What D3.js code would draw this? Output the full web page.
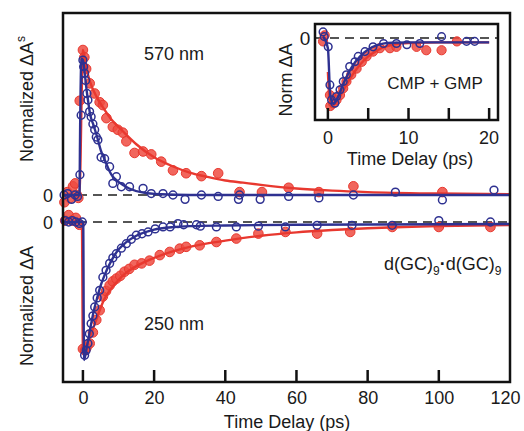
<!DOCTYPE html>
<html><head><meta charset="utf-8">
<script src="https://cdn.jsdelivr.net/npm/d3@7"></script>
<style>
body{margin:0;background:#fff;}
text{font-family:"Liberation Sans",Arial,sans-serif;fill:#1a1a1a;}
</style></head>
<body><svg id="c" width="524" height="431"></svg>
<script>
// ---- Data (time in ps, normalized signal) ----
const xTicks = [0,20,40,60,80,100,120];
const insetTicks = [0,5,10,15,20];
const insetTickLabels = [0,10,20];

// 570 nm panel – d(GC)9·d(GC)9 (red, filled) and CMP+GMP (blue, open)
const redTopT = [-5.2,-4.4,-3.6,-2.8,-2.2,-1.7,-1.3,-0.9,0,0.4,0.9,1.9,3.3,4.7,5.6,6.6,8.4,9.8,11.2,12.2,14.5,16.9,19.2,22,25.3,29,33.3,38,44,50.3,57.8,66.3,76,101];
const redTopV = [-0.05,0.02,-0.02,0.06,0.08,0.0,-0.02,0.65,1.0,0.95,0.87,0.77,0.70,0.64,0.62,0.53,0.47,0.45,0.43,0.37,0.29,0.30,0.28,0.23,0.17,0.15,0.13,0.15,0.02,0.02,0.05,0.02,0.06,0.02];
const redTopFitT = [-5.6,-1.0,-0.1,0,1,2,4,6,8,10,12,15,20,25,30,35,40,45,50,60,70,80,100,120];
const redTopFitV = [0,0,0.95,1.0,0.87,0.78,0.67,0.59,0.52,0.47,0.42,0.35,0.26,0.20,0.155,0.125,0.10,0.085,0.07,0.045,0.03,0.02,0.01,0.005];

const blueTopT = [-5.3,-4.3,-3.2,-2.2,-1.5,-0.85,-0.5,0,0.2,0.47,0.75,1.12,1.4,1.87,2.3,2.8,3.3,3.75,4.2,5.1,6.1,7.5,8.4,9.4,10.8,13.1,16.9,19.2,22.5,25.3,28.7,33.3,38,43.7,44,49.8,57.8,66.3,76,87.8,101,115.5];
const blueTopV = [0.0,0.01,-0.03,0.0,-0.01,0.14,0.55,0.93,0.885,0.84,0.79,0.70,0.655,0.575,0.54,0.49,0.45,0.40,0.38,0.26,0.25,0.195,0.08,0.126,0.057,0.057,0.046,0.01,0.01,0.0,-0.03,0.0,-0.01,-0.03,0.0,-0.03,-0.01,-0.02,0.0,0.02,-0.034,0.034];
const blueTopFitT = [-5.6,-0.95,-0.85,-0.4,0,0.5,1,1.5,2,3,4,5,6,8,10,13,17,22,30,120];
const blueTopFitV = [0,0,0.3,0.94,0.93,0.84,0.73,0.64,0.56,0.48,0.40,0.31,0.25,0.14,0.09,0.045,0.016,0.005,0,0];

// 250 nm panel
const redBotT = [-5.0,-4.0,-3.0,-2.0,-1.0,0,0.6,1.0,1.9,2.8,3.75,4.7,5.6,6.5,7.5,8.4,9.4,10.5,11.7,13,14.5,16.5,18.7,21.6,24.4,27.2,29,32.8,37.5,43.1,49.3,56.9,65.8,75.1,86.9,100,114.5];
const redBotV = [0.01,0.05,0.01,0.03,-0.02,-0.92,-0.93,-0.91,-0.88,-0.80,-0.71,-0.64,-0.54,-0.50,-0.46,-0.43,-0.41,-0.39,-0.36,-0.34,-0.31,-0.30,-0.28,-0.24,-0.217,-0.193,-0.18,-0.169,-0.145,-0.12,-0.084,-0.072,-0.084,-0.072,-0.036,-0.036,-0.036];
const redBotFitT = [-5.6,-0.3,0,1,2,3,4,5,6,8,10,12,15,20,25,30,35,40,50,60,70,80,90,100,120];
const redBotFitV = [0,0,-0.93,-0.9,-0.83,-0.76,-0.69,-0.62,-0.56,-0.48,-0.42,-0.37,-0.32,-0.26,-0.215,-0.18,-0.155,-0.135,-0.10,-0.075,-0.058,-0.045,-0.036,-0.03,-0.022];

const blueBotT = [-5.0,-4.0,-3.0,-2.0,-1.0,-0.2,0.47,0.9,1.4,1.8,2.3,2.8,3.3,4.0,4.7,5.6,6.5,7.5,8.4,9.4,10.8,12.2,13.6,15,16.6,18.3,20.3,22.5,24.5,26.7,28.3,31.9,33,37.5,43.1,49.3,56.9,65.8,75.6,86.9,100,114.5];
const blueBotV = [0.01,0.0,0.01,0.0,-0.01,0.0,-0.966,-0.93,-0.88,-0.81,-0.736,-0.68,-0.616,-0.55,-0.495,-0.40,-0.35,-0.30,-0.26,-0.23,-0.19,-0.157,-0.125,-0.096,-0.085,-0.072,-0.05,-0.036,-0.036,-0.012,-0.02,-0.02,-0.03,-0.036,-0.036,-0.03,-0.036,-0.024,-0.024,-0.024,0.01,0.0];
const blueBotFitT = [-5.6,0.1,0.2,0.3,1,2,3,4,5,6,8,10,12,15,20,25,30,40,60,120];
const blueBotFitV = [0,0,-0.6,-1.0,-0.92,-0.78,-0.65,-0.55,-0.46,-0.39,-0.28,-0.20,-0.15,-0.10,-0.055,-0.038,-0.03,-0.025,-0.02,-0.015];

// Inset – CMP + GMP
const insRedT = [-0.4,-0.6,0.25,0.3,0.66,1.07,1.5,1.9,2.3,2.9,3.56,4.2,4.8,5.6,6.45,7.7,8.5,11,12.2,14.1,16];
const insRedV = [0.04,-0.05,-0.84,-1.0,-0.96,-0.91,-0.84,-0.74,-0.64,-0.54,-0.45,-0.35,-0.27,-0.20,-0.15,-0.15,-0.13,-0.13,-0.18,-0.18,-0.05];
const insRedFitT = [0,0.2,0.45,1,2,3,4,5,6,7,8,10,14,20];
const insRedFitV = [-0.5,-0.9,-1.0,-0.95,-0.75,-0.55,-0.39,-0.27,-0.19,-0.13,-0.10,-0.075,-0.065,-0.065];
const insBlueT = [-0.6,-0.45,0.04,0.25,0.45,0.87,1.07,1.5,1.9,2.3,2.7,3.35,3.76,4.6,5.6,6.9,8.5,9.8,11.4,14.1,17.2,18.2];
const insBlueV = [0.09,0.02,-0.13,-0.69,-0.91,-0.96,-0.86,-0.76,-0.64,-0.54,-0.42,-0.35,-0.27,-0.20,-0.13,-0.08,-0.08,-0.10,-0.08,0.02,-0.05,-0.05];
const insBlueFitT = [-0.6,0.0,0.3,0.7,1.2,2,3,4,5,6,7,8,10,20];
const insBlueFitV = [0.02,-0.15,-0.85,-0.97,-0.88,-0.65,-0.42,-0.27,-0.17,-0.11,-0.08,-0.07,-0.065,-0.065];

// ---- Drawing ----
const RED = "#e8382f", RED_FILL = "#ee4b41", BLUE = "#2e3191";
const FS = 18;
const svg = d3.select("#c");
const zip = (T,V) => T.map((t,i)=>({t, v:V[i]}));

const x = d3.scaleLinear().domain([-5.6,120]).range([63,510]);
const yTop = d3.scaleLinear().domain([0,1]).range([195,50]);
const yBot = d3.scaleLinear().domain([-1,0]).range([360,222]);
const xi = d3.scaleLinear().domain([-1.6,21.1]).range([315,498]);
const yi = d3.scaleLinear().domain([-1,0]).range([106,38]);

function dashed(g, x1, x2, y){
  g.append("line").attr("x1",x1).attr("x2",x2).attr("y1",y).attr("y2",y)
   .attr("stroke","#555").attr("stroke-width",2).attr("stroke-dasharray","9,6");
}
function panel(g, xs, ys, redPts, redFit, bluePts, blueFit, rr, br){
  const line = d3.line().x(d=>xs(d.t)).y(d=>ys(d.v)).curve(d3.curveMonotoneX);
  g.append("g").selectAll("circle").data(redPts).join("circle")
    .attr("cx",d=>xs(d.t)).attr("cy",d=>ys(d.v)).attr("r",rr)
    .attr("fill",RED_FILL).attr("fill-opacity",0.85).attr("stroke",RED).attr("stroke-width",1);
  g.append("path").datum(redFit).attr("d",line).attr("fill","none").attr("stroke",RED).attr("stroke-width",2.4);
  g.append("g").selectAll("circle").data(bluePts).join("circle")
    .attr("cx",d=>xs(d.t)).attr("cy",d=>ys(d.v)).attr("r",br)
    .attr("fill","none").attr("stroke",BLUE).attr("stroke-width",1.5);
  g.append("path").datum(blueFit).attr("d",line).attr("fill","none").attr("stroke",BLUE).attr("stroke-width",2.4);
}

const main = svg.append("g");
dashed(main, x(-5.6), x(120), yTop(0));
dashed(main, x(-5.6), x(120), yBot(0));
panel(main, x, yTop, zip(redTopT,redTopV), zip(redTopFitT,redTopFitV), zip(blueTopT,blueTopV), zip(blueTopFitT,blueTopFitV), 4.8, 3.9);
panel(main, x, yBot, zip(redBotT,redBotV), zip(redBotFitT,redBotFitV), zip(blueBotT,blueBotV), zip(blueBotFitT,blueBotFitV), 4.8, 3.9);

// main frame
main.append("rect").attr("x",63).attr("y",13).attr("width",447).attr("height",369)
  .attr("fill","none").attr("stroke","#111").attr("stroke-width",2.5);
// x axis ticks (inward) + labels
const xAxis = d3.axisBottom(x).tickValues(xTicks).tickSize(0).tickPadding(0).tickFormat(d3.format("d"));
const xg = main.append("g").attr("transform","translate(0,382)").call(xAxis);
xg.select(".domain").remove();
xg.selectAll("text").attr("y",22).attr("dy",0).attr("font-size",FS).attr("fill","#1a1a1a")
  .style("font-family","Liberation Sans, Arial, sans-serif")
  .attr("x",d=>d===120?-5:0);
main.append("g").selectAll("line").data(xTicks.filter(d=>d<120)).join("line")
  .attr("x1",d=>x(d)).attr("x2",d=>x(d)).attr("y1",382).attr("y2",370)
  .attr("stroke","#111").attr("stroke-width",2.5);
main.append("text").attr("x",287).attr("y",428).attr("text-anchor","middle").attr("font-size",FS).text("Time Delay (ps)");
main.append("text").attr("x",48).attr("y",yTop(0)+6.5).attr("text-anchor","middle").attr("font-size",FS).text("0");
main.append("text").attr("x",48).attr("y",yBot(0)+6.5).attr("text-anchor","middle").attr("font-size",FS).text("0");

const yl1 = main.append("text").attr("transform","translate(33,99) rotate(-90)").attr("text-anchor","middle").attr("font-size",FS);
yl1.append("tspan").text("Normalized \u0394A");
yl1.append("tspan").attr("dy",-8).attr("font-size",12).text("s");
main.append("text").attr("transform","translate(33,306) rotate(-90)").attr("text-anchor","middle").attr("font-size",FS).text("Normalized \u0394A");

main.append("text").attr("x",174).attr("y",60).attr("text-anchor","middle").attr("font-size",FS).text("570 nm");
main.append("text").attr("x",174).attr("y",330).attr("text-anchor","middle").attr("font-size",FS).text("250 nm");
const gc = main.append("text").attr("x",384).attr("y",270).attr("font-size",FS);
gc.append("tspan").text("d(GC)");
gc.append("tspan").attr("dy",5).attr("font-size",12).text("9");
gc.append("tspan").attr("dy",-5).attr("font-weight","bold").text("\u00B7");
gc.append("tspan").text("d(GC)");
gc.append("tspan").attr("dy",5).attr("font-size",12).text("9");

// ---- Inset ----
const ins = svg.append("g");
ins.append("rect").attr("x",315).attr("y",24).attr("width",183).attr("height",96).attr("fill","#fff");
dashed(ins, xi(-1.6), xi(21.1), yi(0));
panel(ins, xi, yi, zip(insRedT,insRedV), zip(insRedFitT,insRedFitV), zip(insBlueT,insBlueV), zip(insBlueFitT,insBlueFitV), 4.6, 3.8);
ins.append("rect").attr("x",315).attr("y",24).attr("width",183).attr("height",96)
  .attr("fill","none").attr("stroke","#111").attr("stroke-width",2.5);
ins.append("g").selectAll("line").data(insetTicks).join("line")
  .attr("x1",d=>xi(d)).attr("x2",d=>xi(d)).attr("y1",120).attr("y2",108)
  .attr("stroke","#111").attr("stroke-width",2.5);
ins.append("g").selectAll("text").data(insetTickLabels).join("text")
  .attr("x",d=>xi(d)).attr("y",144).attr("text-anchor","middle").attr("font-size",FS).text(d=>d);
ins.append("text").attr("x",410).attr("y",165).attr("text-anchor","middle").attr("font-size",FS).text("Time Delay (ps)");
ins.append("text").attr("x",305).attr("y",yi(0)+7).attr("text-anchor","middle").attr("font-size",19).text("0");
ins.append("text").attr("transform","translate(292,80) rotate(-90)").attr("text-anchor","middle").attr("font-size",FS).text("Norm \u0394A");
ins.append("text").attr("x",435).attr("y",89).attr("text-anchor","middle").attr("font-size",17).text("CMP + GMP");
</script></body></html>
